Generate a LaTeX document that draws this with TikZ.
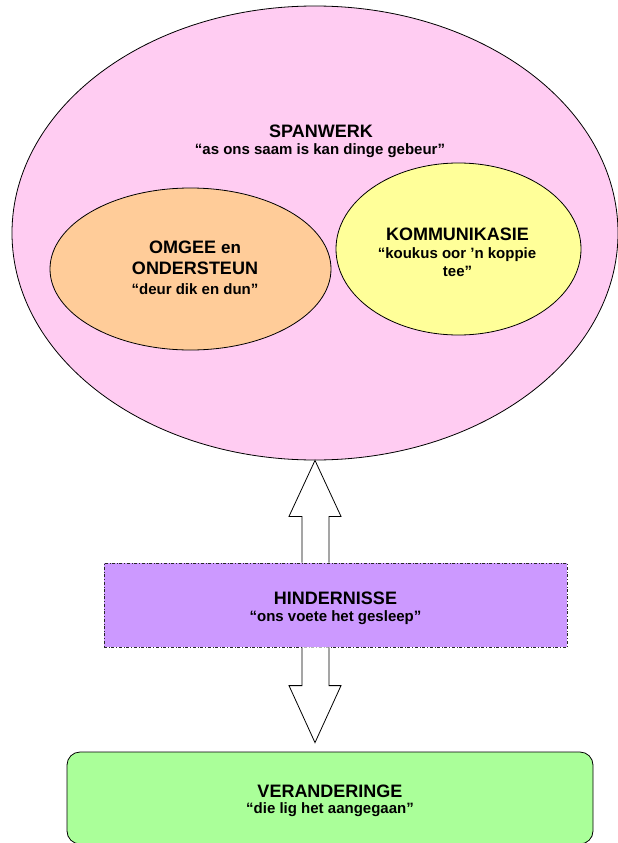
\documentclass[tikz,border=0pt]{standalone}
\usepackage{fontspec}
\setmainfont{Liberation Sans}
\usetikzlibrary{shapes.geometric,calc}

\definecolor{spanpink}{RGB}{255,204,242}
\definecolor{omgeeorange}{RGB}{255,204,153}
\definecolor{kommyellow}{RGB}{255,255,153}
\definecolor{hindpurple}{RGB}{204,153,255}
\definecolor{verangreen}{RGB}{170,255,153}
\definecolor{edgegray}{RGB}{40,40,40}

\tikzset{
  oval/.style={ellipse, draw=black, line width=0.8pt, inner sep=0pt},
  headline/.style={anchor=base, inner sep=0pt, text=black,
                   font=\fontsize{18}{20}\selectfont\bfseries},
  quoteline/.style={anchor=base, inner sep=0pt, text=black,
                    font=\fontsize{15}{18}\selectfont\bfseries},
  blockarrow/.style={draw=black, fill=white, line width=0.8pt, line join=miter},
}

\begin{document}
\begin{tikzpicture}[x=1pt, y=-1pt]
\useasboundingbox (0,0) rectangle (618,843);

% outer team-work ellipse and its two inner ellipses
\node[oval, fill=spanpink, minimum width=606pt, minimum height=454pt] (span) at (315,233) {};
\node[oval, fill=omgeeorange, minimum width=281pt, minimum height=162pt] (omgee) at (190.5,269) {};
\node[oval, fill=kommyellow, minimum width=245pt, minimum height=172pt] (komm) at (458.5,249) {};

\node[headline]  (spanT)  at (321,137) {SPANWERK};
\node[quoteline] (spanQ)  at (320,154) {“as ons saam is kan dinge gebeur”};

\node[headline]  (omgeeT) at (195,253.3) {OMGEE {\fontsize{17}{20}\selectfont en}};
\node[headline]  (omgeeU) at (195,274.3) {ONDERSTEUN};
\node[quoteline] (omgeeQ) at (195,294) {“deur dik en dun”};

\node[headline]  (kommT)  at (457.5,240) {KOMMUNIKASIE};
\node[quoteline] (kommQ)  at (457,258) {“koukus oor ’n koppie};
\node[quoteline] (kommR)  at (457.5,276) {tee”};

% obstacles bar
\node[draw=edgegray, dash dot, line width=0.8pt, fill=hindpurple,
      minimum width=463pt, minimum height=84pt, inner sep=0pt] (hind) at (335.5,605) {};
\node[headline]  (hindT) at (335.5,604.3) {HINDERNISSE};
\node[quoteline] (hindQ) at (335.5,621.7) {“ons voete het gesleep”};

% changes box
\node[draw=black, line width=0.8pt, rounded corners=13pt, fill=verangreen,
      minimum width=526pt, minimum height=92pt, inner sep=0pt] (veran) at (330,798) {};
\node[headline]  (veranT) at (330,797.5) {VERANDERINGE};
\node[quoteline] (veranQ) at (330,813) {“die lig het aangegaan”};

% block arrow up into the outer ellipse (open at the bar's edge)
\coordinate (upTip) at (span.south);
\coordinate (upFoot) at (upTip |- hind.north);
\fill[white]
  (upTip) -- ($(upTip)+(26,56)$) -- ($(upTip)+(14,56)$) -- ($(upFoot)+(14,0)$)
  -- ($(upFoot)+(-13,0)$) -- ($(upTip)+(-13,56)$) -- ($(upTip)+(-26,56)$) -- cycle;
\draw[blockarrow, fill=none]
  ($(upFoot)+(14,0)$) -- ($(upTip)+(14,56)$) -- ($(upTip)+(26,56)$) -- (upTip)
  -- ($(upTip)+(-26,56)$) -- ($(upTip)+(-13,56)$) -- ($(upFoot)+(-13,0)$);

% block arrow down into the changes box (open at the bar's edge)
\coordinate (dnRoot) at (upTip |- hind.south);
\coordinate (dnTip) at ($(upTip |- veran.north)+(0,-9)$);
\fill[white]
  (dnTip) -- ($(dnTip)+(26,-57)$) -- ($(dnTip)+(14,-57)$) -- ($(dnRoot)+(14,0)$)
  -- ($(dnRoot)+(-13,0)$) -- ($(dnTip)+(-13,-57)$) -- ($(dnTip)+(-26,-57)$) -- cycle;
\draw[blockarrow, fill=none]
  ($(dnRoot)+(14,0)$) -- ($(dnTip)+(14,-57)$) -- ($(dnTip)+(26,-57)$) -- (dnTip)
  -- ($(dnTip)+(-26,-57)$) -- ($(dnTip)+(-13,-57)$) -- ($(dnRoot)+(-13,0)$);
\end{tikzpicture}
\end{document}
